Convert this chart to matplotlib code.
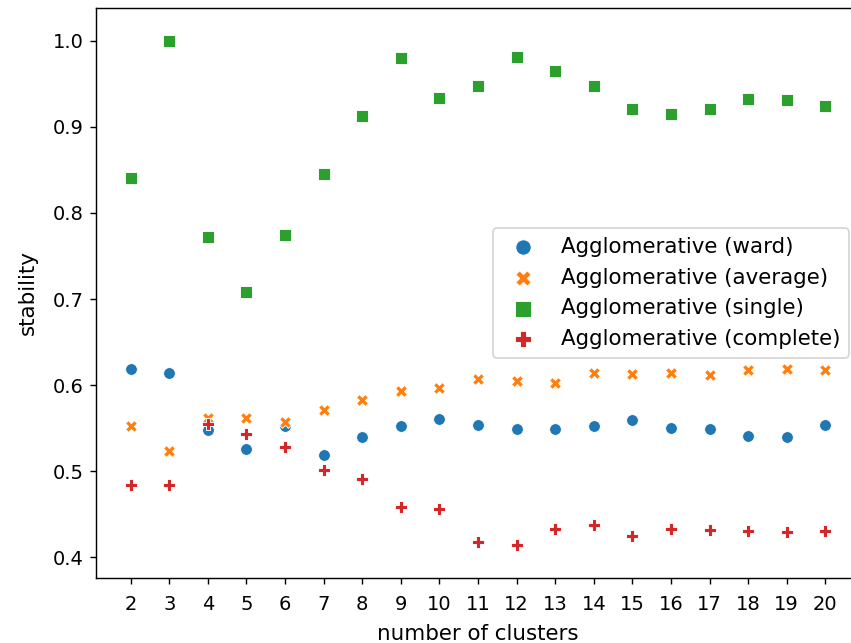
import numpy as np
import pandas as pd
import matplotlib
matplotlib.use("Agg")
import matplotlib.pyplot as plt

n_clusters = list(range(2, 21))

ward = [0.619, 0.614, 0.548, 0.526, 0.553, 0.519, 0.540, 0.552, 0.561, 0.554,
        0.549, 0.549, 0.552, 0.559, 0.550, 0.549, 0.541, 0.540, 0.554]
average = [0.553, 0.523, 0.562, 0.562, 0.557, 0.571, 0.583, 0.593, 0.597, 0.607,
           0.605, 0.603, 0.614, 0.613, 0.614, 0.612, 0.618, 0.619, 0.618]
single = [0.840, 1.000, 0.772, 0.708, 0.774, 0.845, 0.913, 0.980, 0.933, 0.947,
          0.981, 0.965, 0.947, 0.921, 0.915, 0.921, 0.932, 0.931, 0.924]
complete = [0.484, 0.484, 0.555, 0.543, 0.528, 0.502, 0.491, 0.458, 0.456, 0.418,
            0.414, 0.433, 0.437, 0.425, 0.433, 0.432, 0.431, 0.429, 0.431]

labels = ["Agglomerative (ward)", "Agglomerative (average)",
          "Agglomerative (single)", "Agglomerative (complete)"]
series = [ward, average, single, complete]
colors = ["#1f77b4", "#ff7f0e", "#2ca02c", "#d62728"]
markers = ["o", "X", "s", "P"]

dpi = 128
fig = plt.figure(figsize=(851 / dpi, 643 / dpi), dpi=dpi)
# axes runs a bit past the right edge (reference is cropped there)
ax = fig.add_axes([96 / 851, (643 - 578) / 643, (860 - 96) / 851, (578 - 8) / 643])

for lab, vals, c, m in zip(labels, series, colors, markers):
    ax.scatter(n_clusters, vals, s=44, c=c, marker=m, edgecolor="white",
               linewidth=0.5, label=lab)

ax.set_xticks(n_clusters)
ax.set_xlim(1.1, 20.9)
ax.set_ylim(0.376, 1.038)
ax.tick_params(labelsize=11)
ax.tick_params(axis="x", pad=5.8)
ax.set_xlabel("number of clusters", fontsize=12, labelpad=6)
ax.set_ylabel("stability", fontsize=12, labelpad=8.5)
ax.legend(loc="center right", fontsize=12, markerscale=1.3)

fig.savefig("out.png", dpi=dpi)
